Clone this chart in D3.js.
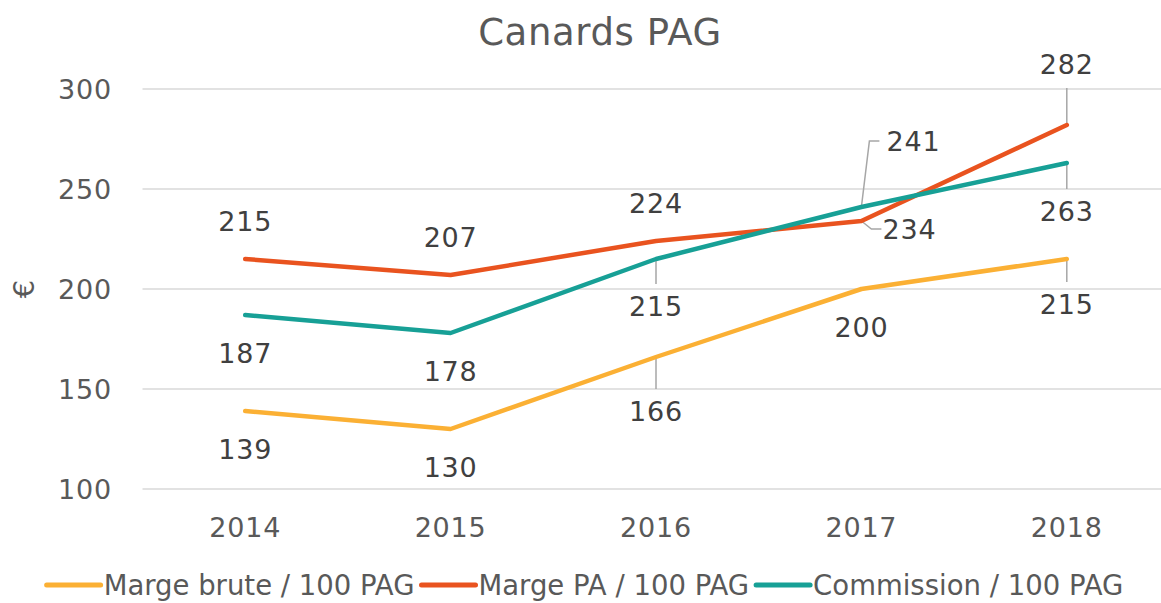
<!DOCTYPE html>
<html>
<head>
<meta charset="utf-8">
<script src="https://cdn.jsdelivr.net/npm/d3@7"></script>
<style>
  body { margin: 0; background: #fff; }
  text { font-family: "DejaVu Sans", sans-serif; }
</style>
</head>
<body>
<div id="chart"></div>
<script>
// data
const years = ['2014', '2015', '2016', '2017', '2018'];
const margeBrute = [139, 130, 166, 200, 215];
const margePA = [215, 207, 224, 234, 282];
const commission = [187, 178, 215, 241, 263];
const yTicks = [100, 150, 200, 250, 300];

const seriesNames = ['Marge brute / 100 PAG', 'Marge PA / 100 PAG', 'Commission / 100 PAG'];
const seriesColors = ['#FBB034', '#E9531F', '#17A096'];

// label placement per series/point: [dx, dy, leader]
const labelPlacement = [
  [[0, 38], [0, 38], [0, 54, 'down'], [0, 38], [0, 45, 'down']],
  [[0, -38], [0, -38], [0, -38], [48, 8, 'right'], [0, -61, 'up']],
  [[0, 38], [0, 38], [0, 47, 'down'], [52, -66, 'upright'], [0, 48, 'down']]
];

const width = 1161, height = 603;
const margin = { left: 142.5, right: -8.5, top: 89, bottom: 114 };

const svg = d3.select('#chart').append('svg')
  .attr('width', width)
  .attr('height', height);

const x = d3.scaleBand()
  .domain(years)
  .range([margin.left, width - margin.right]);

const y = d3.scaleLinear()
  .domain([100, 300])
  .range([height - margin.bottom, margin.top]);

// grid
svg.append('g')
  .selectAll('line')
  .data(yTicks)
  .join('line')
  .attr('x1', margin.left)
  .attr('x2', width)
  .attr('y1', d => y(d))
  .attr('y2', d => y(d))
  .attr('stroke', '#d9d9d9')
  .attr('stroke-width', 1.5);

// y axis labels
svg.append('g')
  .selectAll('text')
  .data(yTicks)
  .join('text')
  .attr('x', 112)
  .attr('y', d => y(d))
  .attr('text-anchor', 'end')
  .attr('dominant-baseline', 'central')
  .attr('font-size', 27)
  .attr('letter-spacing', 0.8)
  .attr('fill', '#595959')
  .text(d => d);

// x axis labels
svg.append('g')
  .selectAll('text')
  .data(years)
  .join('text')
  .attr('x', d => x(d) + x.bandwidth() / 2)
  .attr('y', 527)
  .attr('text-anchor', 'middle')
  .attr('dominant-baseline', 'central')
  .attr('font-size', 27)
  .attr('letter-spacing', 0.8)
  .attr('fill', '#595959')
  .text(d => d);

// y axis title
svg.append('text')
  .attr('transform', `translate(24, ${y(200)}) rotate(-90)`)
  .attr('text-anchor', 'middle')
  .attr('dominant-baseline', 'central')
  .attr('font-size', 29)
  .attr('fill', '#595959')
  .text('€');

// title
svg.append('text')
  .attr('x', 600)
  .attr('y', 32)
  .attr('text-anchor', 'middle')
  .attr('dominant-baseline', 'central')
  .attr('font-size', 37)
  .attr('letter-spacing', 0.6)
  .attr('fill', '#595959')
  .text('Canards PAG');

const cx = d => x(d) + x.bandwidth() / 2;
const line = d3.line()
  .x((d, i) => cx(years[i]))
  .y(d => y(d));

const allSeries = [margeBrute, margePA, commission];

// leader lines
const leaders = svg.append('g');
allSeries.forEach((vals, s) => {
  vals.forEach((v, i) => {
    const p = labelPlacement[s][i];
    const px = cx(years[i]), py = y(v);
    let pts = null;
    if (p[2] === 'down') pts = [[px, py], [px, py + p[1] - 22]];
    if (p[2] === 'up') pts = [[px, py], [px, py + p[1] + 24]];
    if (p[2] === 'right') pts = [[px, py], [px + 10, py + 8], [px + 20, py + 8]];
    if (p[2] === 'upright') pts = [[px, py], [px + 8, py + p[1]], [px + 18, py + p[1]]];
    if (pts) {
      leaders.append('path')
        .attr('d', d3.line()(pts))
        .attr('fill', 'none')
        .attr('stroke', '#a6a6a6')
        .attr('stroke-width', 1.5);
    }
  });
});

// lines
svg.append('g')
  .selectAll('path')
  .data(allSeries)
  .join('path')
  .attr('d', d => line(d))
  .attr('fill', 'none')
  .attr('stroke', (d, i) => seriesColors[i])
  .attr('stroke-width', 4.5)
  .attr('stroke-linecap', 'round')
  .attr('stroke-linejoin', 'round');

// data labels
const labels = svg.append('g');
allSeries.forEach((vals, s) => {
  vals.forEach((v, i) => {
    const p = labelPlacement[s][i];
    labels.append('text')
      .attr('x', cx(years[i]) + p[0])
      .attr('y', y(v) + p[1])
      .attr('text-anchor', 'middle')
      .attr('dominant-baseline', 'central')
      .attr('font-size', 27)
      .attr('letter-spacing', 0.8)
      .attr('fill', '#404040')
      .text(v);
  });
});

// legend
const legend = svg.append('g');
let lx = 0;
seriesNames.forEach((name, i) => {
  const item = legend.append('g').attr('transform', `translate(${lx},0)`);
  item.append('line')
    .attr('x1', 2).attr('x2', 56)
    .attr('y1', 0).attr('y2', 0)
    .attr('stroke', seriesColors[i])
    .attr('stroke-width', 5)
    .attr('stroke-linecap', 'round');
  const t = item.append('text')
    .attr('x', 59)
    .attr('y', 0)
    .attr('dominant-baseline', 'central')
    .attr('font-size', 27.5)
    .attr('fill', '#595959')
    .text(name);
  lx += 59 + t.node().getComputedTextLength() + 5;
});
legend.attr('transform', `translate(${(width - lx) / 2 + 6}, 585)`);
</script>
</body>
</html>
